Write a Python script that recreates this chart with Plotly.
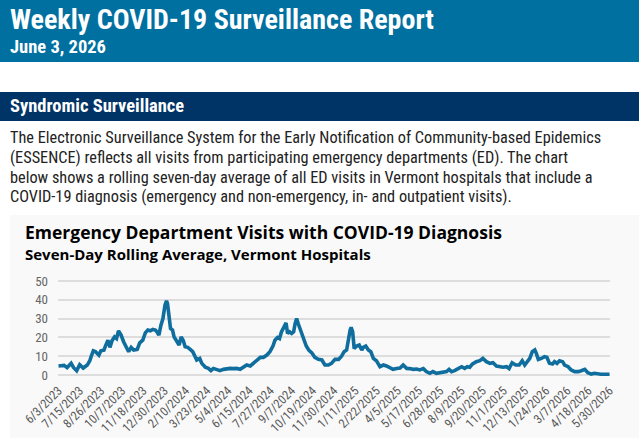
import pandas as pd
import plotly.graph_objects as go

# ---------------- data ----------------
start_date = "2023-06-03"
day_offset = [0, 11, 17, 25, 30, 36, 42, 49, 57, 62, 65, 69, 73, 80, 84, 90, 93, 98, 102, 106,
              111, 115, 119, 124, 129, 135, 139, 144, 149, 156, 161, 167, 172, 177, 182, 187, 192,
              195, 199, 203, 207, 211, 214, 216, 219, 222, 226, 229, 235, 239, 243, 247, 251, 256,
              261, 266, 274, 280, 284, 291, 297, 302, 307, 314, 320, 327, 334, 340, 347, 353, 360,
              367, 373, 380, 386, 393, 400, 406, 413, 419, 425, 429, 434, 438, 442, 447, 451, 454,
              458, 462, 466, 469, 472, 475, 480, 485, 491, 496, 502, 508, 515, 522, 528, 535, 541,
              548, 555, 561, 566, 571, 574, 578, 580, 583, 586, 591, 596, 601, 604, 609, 614, 619,
              624, 630, 637, 644, 650, 657, 663, 670, 677, 683, 690, 696, 703, 710, 716, 723, 729,
              736, 742, 749, 756, 762, 769, 774, 779, 785, 792, 799, 805, 810, 815, 820, 828, 835,
              841, 848, 855, 861, 868, 874, 881, 888, 893, 899, 906, 913, 919, 924, 928, 934, 939,
              944, 947, 951, 957, 963, 968, 973, 979, 983, 988, 993, 999, 1003, 1010, 1016, 1023,
              1030, 1036, 1043, 1049, 1056, 1062, 1069, 1075, 1082, 1092]
ed_visits_7day = [4.8, 5.1, 3.9, 6.2, 3.9, 2.3, 5.5, 3.7, 5.3, 7.6, 10.0, 12.9, 12.5, 10.6, 12.9,
                  13.2, 15.4, 18.5, 14.7, 18.2, 20.3, 19.4, 23.5, 21.2, 17.7, 13.8, 12.4, 14.7, 13.3,
                  13.6, 17.1, 18.5, 22.4, 23.9, 23.5, 24.2, 23.9, 23.0, 21.2, 26.5, 30.0, 37.1, 39.4,
                  38.0, 32.7, 24.7, 23.9, 20.3, 17.7, 15.9, 20.3, 18.5, 15.0, 14.7, 13.6, 12.4, 8.0,
                  8.8, 6.2, 4.1, 3.5, 2.3, 3.5, 2.7, 2.3, 3.0, 3.4, 3.5, 3.4, 3.5, 3.0, 4.1, 5.3, 4.8,
                  6.2, 7.6, 9.4, 9.4, 10.6, 12.4, 15.4, 18.5, 20.0, 19.4, 23.0, 25.6, 27.7, 22.1,
                  23.0, 22.1, 23.0, 27.4, 30.0, 27.4, 23.9, 19.4, 15.4, 13.3, 11.8, 9.4, 8.3, 8.0,
                  5.3, 5.3, 6.2, 8.3, 8.3, 10.0, 12.4, 13.3, 18.5, 23.9, 25.3, 23.0, 14.1, 15.4,
                  15.9, 13.3, 14.7, 15.4, 13.3, 12.4, 8.8, 7.6, 4.4, 5.3, 4.8, 4.1, 3.0, 3.5, 3.7,
                  5.3, 3.5, 3.4, 3.0, 3.2, 2.7, 3.4, 1.8, 0.9, 1.8, 0.9, 1.2, 1.2, 1.8, 3.0, 1.8,
                  2.3, 3.5, 4.4, 3.5, 4.4, 4.1, 5.8, 7.1, 7.6, 8.8, 7.1, 6.2, 6.5, 4.8, 4.4, 4.1,
                  4.4, 3.4, 6.5, 5.3, 5.3, 7.6, 5.3, 6.5, 8.8, 12.4, 13.3, 11.5, 8.3, 8.8, 9.7, 9.4,
                  6.2, 5.8, 7.1, 6.2, 7.6, 7.1, 5.3, 4.4, 2.7, 1.8, 1.8, 2.3, 3.0, 1.2, 0.5, 0.9,
                  0.4, 0.4, 0.4, 0.4]
tick_labels = ["6/3/2023", "7/15/2023", "8/26/2023", "10/7/2023", "11/18/2023", "12/30/2023",
               "2/10/2024", "3/23/2024", "5/4/2024", "6/15/2024", "7/27/2024", "9/7/2024",
               "10/19/2024", "11/30/2024", "1/11/2025", "2/22/2025", "4/5/2025", "5/17/2025",
               "6/28/2025", "8/9/2025", "9/20/2025", "11/1/2025", "12/13/2025", "1/24/2026",
               "3/7/2026", "4/18/2026", "5/30/2026"]
y_ticks = [0, 10, 20, 30, 40, 50]

# ---------------- derived ----------------
dates = pd.to_datetime(start_date) + pd.to_timedelta(day_offset, unit="D")
tick_dates = pd.to_datetime(tick_labels, format="%m/%d/%Y")

W, H = 639, 438
def px(x):
    return x / W
def py(y):
    return 1 - y / H

NARROW = "Liberation Sans Narrow, Arial Narrow, Roboto Condensed, Roboto, sans-serif"
BOLDF = "Open Sans, Roboto, Arial, sans-serif"

fig = go.Figure()
fig.add_trace(go.Scatter(
    x=dates, y=ed_visits_7day, mode="lines",
    line=dict(color="#0F6E9E", width=3.6),
    hoverinfo="skip", showlegend=False,
))

shapes = [
    dict(type="rect", xref="paper", yref="paper", x0=0, x1=1, y0=py(62), y1=1,
         fillcolor="#0070A1", line=dict(width=0), layer="below"),
    dict(type="rect", xref="paper", yref="paper", x0=0, x1=1, y0=py(121), y1=py(92),
         fillcolor="#003366", line=dict(width=0), layer="below"),
    dict(type="rect", xref="paper", yref="paper", x0=px(10), x1=1, y0=0, y1=py(215),
         fillcolor="#F9F9F9", line=dict(width=0), layer="below"),
]

PARA = dict(family=NARROW, size=16.3, color="#222222")
annotations = [
    dict(text="<b>Weekly COVID-19 Surveillance Report</b>", x=px(8), y=py(19),
         font=dict(family=NARROW, size=28, color="white")),
    dict(text="<b>June 3, 2026</b>", x=px(8), y=py(47),
         font=dict(family=NARROW, size=18.5, color="white")),
    dict(text="<b>Syndromic Surveillance</b>", x=px(8), y=py(106),
         font=dict(family=NARROW, size=18.5, color="white")),
    dict(text="The Electronic Surveillance System for the Early Notification of Community-based Epidemics",
         x=px(8), y=py(138), font=PARA),
    dict(text="(ESSENCE) reflects all visits from participating emergency departments (ED). The chart",
         x=px(8), y=py(157.5), font=PARA),
    dict(text="below shows a rolling seven-day average of all ED visits in Vermont hospitals that include a",
         x=px(8), y=py(177), font=PARA),
    dict(text="COVID-19 diagnosis (emergency and non-emergency, in- and outpatient visits).",
         x=px(8), y=py(196.5), font=PARA),
    dict(text="<b>Emergency Department Visits with COVID-19 Diagnosis</b>", x=px(23), y=py(231.5),
         font=dict(family=BOLDF, size=17.5, color="#000000")),
    dict(text="<b>Seven-Day Rolling Average, Vermont Hospitals</b>", x=px(23), y=py(254),
         font=dict(family=BOLDF, size=15, color="#000000")),
]
for a in annotations:
    a.update(xref="paper", yref="paper", xanchor="left", yanchor="middle", showarrow=False)

y0_px, y50_px = 375, 281
per = (y0_px - y50_px) / 50
ymin, ymax = -1.0, 50.6
top_px = y0_px - ymax * per
bot_px = y0_px - ymin * per

fig.update_layout(
    width=W, height=H,
    margin=dict(l=0, r=0, t=0, b=0),
    paper_bgcolor="white",
    plot_bgcolor="rgba(0,0,0,0)",
    template="none",
    shapes=shapes,
    annotations=annotations,
    xaxis=dict(
        domain=[px(58), px(610)],
        type="date",
        range=[tick_dates[0] - pd.Timedelta(days=1), tick_dates[-1] + pd.Timedelta(days=1)],
        tickmode="array", tickvals=tick_dates, ticktext=tick_labels,
        tickangle=-45, showgrid=False, zeroline=False, showline=False, ticks="",
        tickfont=dict(family=NARROW, size=12.5, color="#595959"),
        automargin=False, ticklabelstandoff=3,
    ),
    yaxis=dict(
        domain=[py(bot_px), py(top_px)],
        range=[ymin, ymax],
        tickmode="array", tickvals=y_ticks,
        showgrid=True, gridcolor="#DDDDDD", gridwidth=1.5,
        zeroline=False, showline=False, ticks="",
        tickfont=dict(family=NARROW, size=13, color="#666666"),
        automargin=False, ticklabelstandoff=9,
    ),
)

fig.write_html("out.html")
